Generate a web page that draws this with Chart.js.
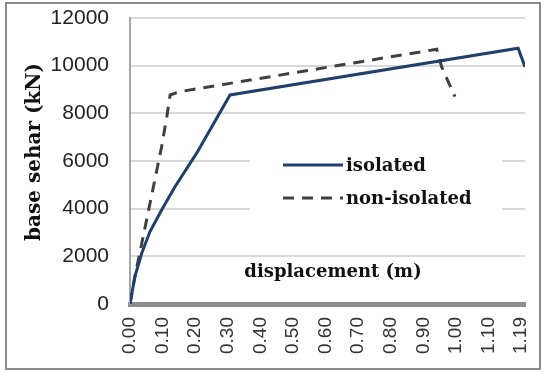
<!DOCTYPE html>
<html>
<head>
<meta charset="utf-8">
<script src="https://cdn.jsdelivr.net/npm/chart.js@4/dist/chart.umd.min.js"></script>
<style>
  body { margin: 0; background: #fff; }
  #wrap { position: relative; width: 544px; height: 372px; }
  #frame { position: absolute; left: 5px; top: 2px; width: 536px; height: 368px;
           box-sizing: border-box; border: 2px solid #8a8a8a; pointer-events: none; }
</style>
</head>
<body>
<div id="wrap">
  <canvas id="chart" width="544" height="372"></canvas>
  <div id="frame"></div>
</div>
<script>
// isolated
const isoDisp  = [0, 0.015, 0.036, 0.061, 0.097, 0.138, 0.204, 0.307, 1.191, 1.212];
const isoShear = [0, 1150, 2130, 3030, 3940, 4920, 6320, 8770, 10730, 9950];
// non-isolated
const nonDisp  = [0, 0.015, 0.051, 0.097, 0.113, 0.123, 0.153, 0.941, 0.956, 0.997];
const nonShear = [0, 1150, 3530, 6600, 7860, 8770, 8910, 10690, 9960, 8700];

const xTickValues = [0, 0.1, 0.2, 0.3, 0.4, 0.5, 0.6, 0.7, 0.8, 0.9, 1.0, 1.1, 1.2];
const xTickLabels = ['0.00', '0.10', '0.20', '0.30', '0.40', '0.50', '0.60', '0.70', '0.80', '0.90', '1.00', '1.10', '1.19'];

const titleFont = 'bold 18px "DejaVu Serif"';

const toPoints = (xs, ys) => xs.map((x, i) => ({ x: x, y: ys[i] }));

// axis titles + legend drawn inside the plot like the excel original
const overlay = {
  id: 'overlay',
  beforeDatasetsDraw(chart) {
    const ctx = chart.ctx;
    ctx.save();
    ctx.fillStyle = '#fff';
    ctx.fillRect(250, 148, 252, 68);
    ctx.restore();
  },
  afterDraw(chart) {
    const ctx = chart.ctx;
    ctx.save();
    ctx.fillStyle = '#111';
    ctx.font = titleFont;
    ctx.textBaseline = 'alphabetic';

    ctx.textAlign = 'center';
    ctx.fillText('displacement (m)', 333, 277);

    ctx.save();
    ctx.translate(40, 152);
    ctx.rotate(-Math.PI / 2);
    ctx.font = 'bold 20px "DejaVu Serif"';
    ctx.fillText('base sehar (kN)', 0, 0);
    ctx.restore();

    // legend
    const rows = [165, 198];
    chart.data.datasets.forEach((ds, i) => {
      const y = rows[i];
      ctx.beginPath();
      ctx.strokeStyle = ds.borderColor;
      ctx.lineWidth = ds.borderWidth;
      ctx.setLineDash(ds.borderDash || []);
      ctx.moveTo(283, y);
      ctx.lineTo(343, y);
      ctx.stroke();
      ctx.setLineDash([]);
      ctx.textAlign = 'left';
      ctx.textBaseline = 'middle';
      ctx.fillStyle = '#111';
      ctx.fillText(ds.label, 346, y + 1);
    });
    ctx.restore();
  }
};

new Chart(document.getElementById('chart'), {
  type: 'scatter',
  plugins: [overlay],
  data: {
    datasets: [
      {
        label: 'isolated',
        data: toPoints(isoDisp, isoShear),
        showLine: true,
        borderColor: '#203f6b',
        borderWidth: 3,
        pointRadius: 0,
        tension: 0
      },
      {
        label: 'non-isolated',
        data: toPoints(nonDisp, nonShear),
        showLine: true,
        borderColor: '#404040',
        borderWidth: 3,
        borderDash: [11, 8],
        pointRadius: 0,
        tension: 0
      }
    ]
  },
  options: {
    responsive: false,
    animation: false,
    layout: { padding: { top: 18, right: 19, left: 0, bottom: 0 } },
    plugins: {
      legend: { display: false },
      tooltip: { enabled: false }
    },
    scales: {
      x: {
        type: 'linear',
        min: 0,
        max: 1.212,
        afterBuildTicks: (scale) => { scale.ticks = xTickValues.map(v => ({ value: v })); },
        afterFit: (scale) => {
          scale.height = 68;
          scale.paddingLeft = 0;
          scale.paddingRight = 0;
        },
        grid: { display: false, drawTicks: false },
        border: { display: true, color: '#8c8c8c', width: 5 },
        ticks: {
          autoSkip: false,
          maxRotation: 90,
          minRotation: 90,
          padding: 13,
          color: '#333',
          font: { family: 'Liberation Sans', size: 19 },
          callback: (v, i) => xTickLabels[i]
        }
      },
      y: {
        min: 0,
        max: 12000,
        afterFit: (scale) => {
          scale.width = 130;
          scale.paddingTop = 0;
          scale.paddingBottom = 0;
        },
        grid: { color: '#d9d9d9', lineWidth: 2, drawTicks: false },
        border: { display: true, color: '#a6a6a6', width: 2 },
        ticks: {
          stepSize: 2000,
          padding: 21,
          color: '#222',
          font: { family: 'Liberation Sans', size: 21 },
          callback: (v) => String(v)
        }
      }
    }
  }
});
</script>
</body>
</html>
